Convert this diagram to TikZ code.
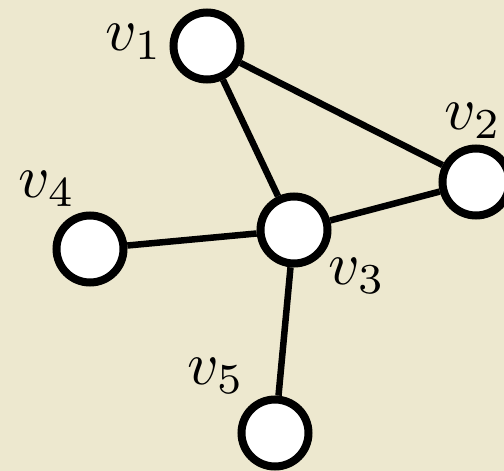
\documentclass[tikz,border=0pt]{standalone}
\begin{document}
\begin{tikzpicture}[x=1pt,y=-1pt,
  vertex/.style={circle,draw=black,fill=white,line width=8pt,minimum size=67pt,inner sep=0pt},
  vlabel/.style={inner sep=0pt,scale=6.1},
  edge/.style={line width=6.5pt,draw=black}]
  \definecolor{paper}{RGB}{237,232,207}
  % page and background
  \fill[paper] (0,0) rectangle (504,471);
  \useasboundingbox (0,0) rectangle (504,471);
  \begin{scope}
    \clip (0,0) rectangle (504,471);
    % vertices
    \node[vertex] (v1) at (207,46) {};
    \node[vertex] (v2) at (476,182) {};
    \node[vertex] (v3) at (294,230) {};
    \node[vertex] (v4) at (90,249) {};
    \node[vertex] (v5) at (275,433) {};
    % edges
    \draw[edge] (v1) -- (v3);
    \draw[edge] (v1) -- (v2);
    \draw[edge] (v2) -- (v3);
    \draw[edge] (v4) -- (v3);
    \draw[edge] (v3) -- (v5);
    % vertex labels
    \node[vlabel] (l1) at (134,42) {$v_1$};
    \node[vlabel] (l2) at (473,121) {$v_2$};
    \node[vlabel] (l3) at (357,276) {$v_3$};
    \node[vlabel] (l4) at (47,189) {$v_4$};
    \node[vlabel] (l5) at (216,376) {$v_5$};
  \end{scope}
\end{tikzpicture}
\end{document}
